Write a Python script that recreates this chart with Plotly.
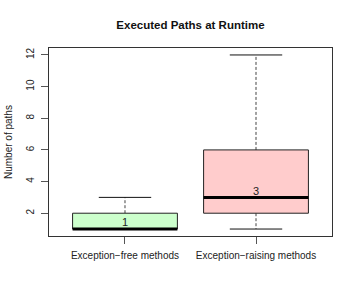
import plotly.graph_objects as go

categories = ["Exception\u2212free methods", "Exception\u2212raising methods"]
lower = [1, 1]
q1 = [1, 2]
median = [1, 3]
q3 = [2, 6]
upper = [3, 12]
fill_colors = ["#ccffcc", "#ffcccc"]
y_ticks = [2, 4, 6, 8, 10, 12]

positions = [1, 2]
half_box = 0.4
half_cap = 0.2

W, H = 357, 297

fig = go.Figure()
for i, p in enumerate(positions):
    fig.add_trace(go.Scatter(x=[p, p, None, p, p], y=[q3[i], upper[i], None, q1[i], lower[i]],
                             mode="lines", line=dict(color="#444", width=1, dash="3px,2px"),
                             hoverinfo="skip", showlegend=False))
    fig.add_trace(go.Scatter(x=[p - half_cap, p + half_cap, None, p - half_cap, p + half_cap],
                             y=[upper[i], upper[i], None, lower[i], lower[i]],
                             mode="lines", line=dict(color="#111", width=1),
                             hoverinfo="skip", showlegend=False))
    fig.add_trace(go.Scatter(x=[p - half_box, p + half_box, p + half_box, p - half_box, p - half_box],
                             y=[q1[i], q1[i], q3[i], q3[i], q1[i]],
                             mode="lines", fill="toself", fillcolor=fill_colors[i],
                             line=dict(color="#222", width=1),
                             hoverinfo="skip", showlegend=False))
    fig.add_trace(go.Scatter(x=[p - half_box, p + half_box], y=[median[i], median[i]],
                             mode="lines", line=dict(color="black", width=3),
                             hoverinfo="skip", showlegend=False))
    fig.add_trace(go.Scatter(x=[p], y=[median[i]], mode="text", text=[str(median[i])],
                             textposition="top center",
                             textfont=dict(family="Liberation Sans, Arial", size=11, color="#222"),
                             hoverinfo="skip", showlegend=False))

fig.update_layout(
    width=W, height=H,
    margin=dict(l=49, r=25, t=48, b=61),
    paper_bgcolor="white", plot_bgcolor="white",
    font=dict(family="Liberation Sans, Arial", size=10, color="#222"),
    title=dict(text="<b>Executed Paths at Runtime</b>", x=0.5, xanchor="center",
               xref="paper", yref="container", y=1 - 25 / H, yanchor="middle",
               font=dict(family="Liberation Sans, Arial", size=11.5, color="#111")),
    xaxis=dict(range=[0.42, 2.58], tickvals=positions, ticktext=categories,
               showgrid=False, zeroline=False, showline=True, mirror=True, automargin=False,
               linecolor="#333", linewidth=1, ticks="outside", ticklen=7,
               tickcolor="#555", ticklabelstandoff=3, tickfont=dict(size=10, color="#222")),
    yaxis=dict(range=[0.56, 12.44], tickvals=y_ticks, tickangle=-90,
               showgrid=False, zeroline=False, showline=True, mirror=True, automargin=False,
               linecolor="#333", linewidth=1, ticks="outside", ticklen=7,
               tickcolor="#555", ticklabelstandoff=3, tickfont=dict(size=10, color="#222")),
    annotations=[dict(text="Number of paths", textangle=-90, xref="paper", yref="paper",
                      x=-41 / 283, y=0.5, xanchor="center", yanchor="middle", showarrow=False,
                      font=dict(size=10, color="#222"))],
)

fig.write_html("out.html", config={"displayModeBar": False},
               post_script="document.body.style.margin='0px';")
